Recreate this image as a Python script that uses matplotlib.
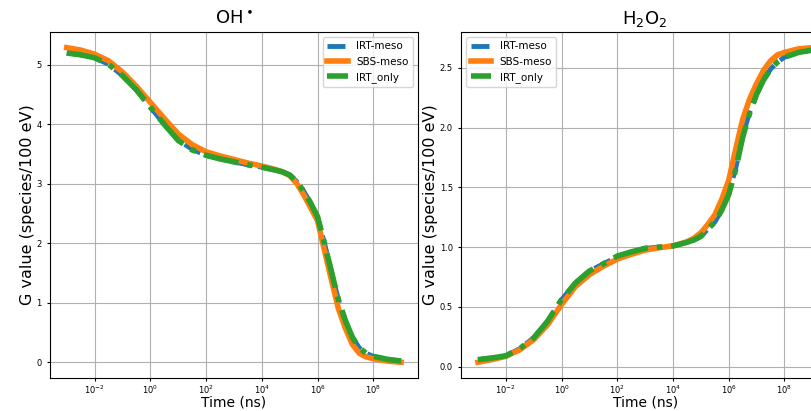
import numpy as np
import matplotlib.pyplot as plt
from matplotlib.ticker import NullLocator

# log10 of time (ns)
log_t = [-3, -2.5, -2, -1.5, -1, -0.5, 0, 0.5, 1, 1.5, 2, 2.5, 3, 3.5, 4, 4.5, 4.75, 5,
         5.25, 5.5, 5.75, 6, 6.25, 6.5, 6.75, 7, 7.25, 7.5, 7.75, 8, 8.5, 9]

# OH radical
oh_irt_meso = [5.20, 5.17, 5.12, 5.01, 4.82, 4.58, 4.29, 4.00, 3.74, 3.58, 3.48, 3.42,
               3.37, 3.32, 3.28, 3.23, 3.20, 3.15, 3.04, 2.88, 2.68, 2.44, 2.00, 1.52, 1.05,
               0.70, 0.42, 0.24, 0.15, 0.10, 0.05, 0.02]
oh_sbs_meso = [5.29, 5.25, 5.18, 5.07, 4.88, 4.64, 4.37, 4.10, 3.84, 3.66, 3.54, 3.47,
               3.41, 3.35, 3.30, 3.24, 3.20, 3.14, 3.01, 2.82, 2.60, 2.38, 1.88, 1.38, 0.90,
               0.57, 0.30, 0.15, 0.09, 0.06, 0.02, 0.00]
oh_irt_only = [5.20, 5.17, 5.12, 5.01, 4.82, 4.58, 4.29, 4.00, 3.73, 3.57, 3.48, 3.42,
               3.37, 3.32, 3.28, 3.23, 3.20, 3.15, 3.04, 2.88, 2.68, 2.45, 2.00, 1.52, 1.05,
               0.70, 0.42, 0.24, 0.15, 0.10, 0.05, 0.02]

# H2O2
h2o2_irt_meso = [0.058, 0.072, 0.09, 0.15, 0.24, 0.38, 0.56, 0.70, 0.80, 0.86, 0.92, 0.96,
                 0.99, 1.00, 1.01, 1.04, 1.06, 1.09, 1.15, 1.21, 1.31, 1.45, 1.66, 1.93, 2.13,
                 2.28, 2.40, 2.49, 2.55, 2.59, 2.63, 2.65]
h2o2_sbs_meso = [0.036, 0.058, 0.086, 0.14, 0.225, 0.35, 0.52, 0.67, 0.77, 0.84, 0.90, 0.94,
                 0.975, 0.995, 1.01, 1.045, 1.075, 1.12, 1.19, 1.27, 1.40, 1.56, 1.82, 2.07, 2.24,
                 2.37, 2.48, 2.56, 2.61, 2.63, 2.66, 2.67]
h2o2_irt_only = [0.058, 0.072, 0.09, 0.15, 0.24, 0.38, 0.56, 0.70, 0.80, 0.86, 0.925, 0.96,
                 0.99, 1.00, 1.01, 1.04, 1.06, 1.09, 1.15, 1.21, 1.31, 1.44, 1.65, 1.92, 2.12,
                 2.28, 2.40, 2.49, 2.55, 2.59, 2.63, 2.65]

labels = ["IRT-meso", "SBS-meso", "IRT_only"]
xticks = [1e-2, 1e0, 1e2, 1e4, 1e6, 1e8]

t = 10.0 ** np.array(log_t)

fig = plt.figure(figsize=(8.12, 4.11), dpi=100)
ax1 = fig.add_axes([0.0616, 0.0803, 0.453, 0.842])
ax2 = fig.add_axes([0.568, 0.0803, 0.453, 0.842])

panels = [
    (ax1, [oh_irt_meso, oh_sbs_meso, oh_irt_only], r"OH$^\bullet$", "upper right"),
    (ax2, [h2o2_irt_meso, h2o2_sbs_meso, h2o2_irt_only], r"H$_2$O$_2$", "upper left"),
]

for ax, series, title, loc in panels:
    ax.plot(t, series[0], color="tab:blue", ls="--", lw=3.5, label=labels[0])
    ax.plot(t, series[1], color="tab:orange", ls="-", lw=4, label=labels[1])
    ax.plot(t, series[2], color="tab:green", ls="-.", lw=4, label=labels[2])
    ax.set_xscale("log")
    ax.set_xticks(xticks)
    ax.xaxis.set_minor_locator(NullLocator())
    ax.grid(True)
    ax.tick_params(labelsize=6, length=2.5)
    ax.tick_params(axis="x", pad=1.5)
    ax.set_title(title, fontsize=13)
    ax.set_xlabel("Time (ns)", fontsize=10)
    ax.xaxis.set_label_coords(0.5, -0.05)
    ax.set_ylabel("G value (species/100 eV)", fontsize=11.5, labelpad=1)
    ax.legend(loc=loc, fontsize=7.5)

fig.savefig("out.png", dpi=100)
